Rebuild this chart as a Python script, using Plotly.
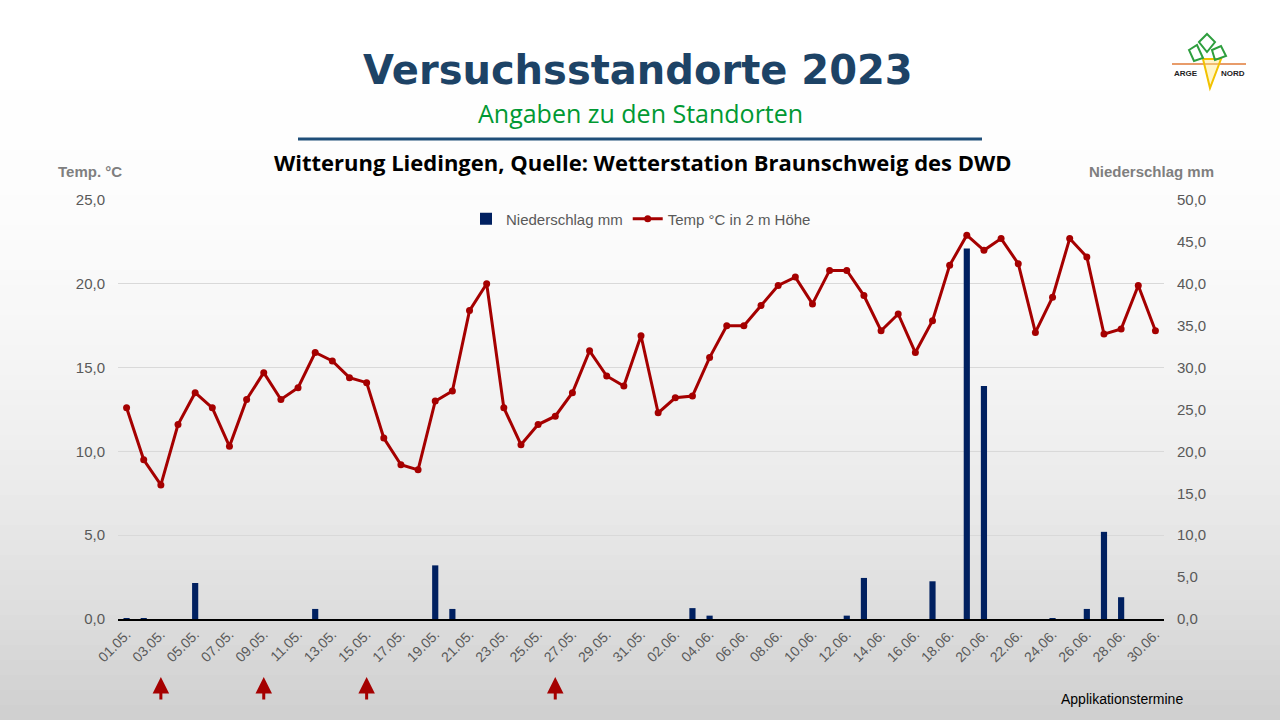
import pandas as pd
import plotly.graph_objects as go

# Tage 01.05. - 30.06.2023
days = list(pd.date_range("2023-05-01", "2023-06-30").strftime("%d.%m."))

temp_may = [12.6, 9.5, 8.0, 11.6, 13.5, 12.6, 10.3, 13.1, 14.7, 13.1, 13.8, 15.9, 15.4, 14.4, 14.1, 10.8,
            9.2, 8.9, 13.0, 13.6, 18.4, 20.0, 12.6, 10.4, 11.6, 12.1, 13.5, 16.0, 14.5, 13.9, 16.9]
temp_jun = [12.3, 13.2, 13.3, 15.6, 17.5, 17.5, 18.7, 19.9, 20.4, 18.8, 20.8, 20.8, 19.3, 17.2, 18.2,
            15.9, 17.8, 21.1, 22.9, 22.0, 22.7, 21.2, 17.1, 19.2, 22.7, 21.6, 17.0, 17.3, 19.9, 17.2]
rain_may = [0.1, 0.1, 0, 0, 4.3, 0, 0, 0, 0, 0, 0, 1.2, 0, 0, 0, 0, 0, 0, 6.4, 1.2, 0, 0, 0, 0, 0, 0,
            0, 0, 0, 0, 0]
rain_jun = [0, 0, 1.3, 0.4, 0, 0, 0, 0, 0, 0, 0, 0.4, 4.9, 0, 0, 0, 4.5, 0, 44.2, 27.8, 0, 0, 0, 0.1,
            0, 1.2, 10.4, 2.6, 0, 0]
temp = temp_may + temp_jun
rain = rain_may + rain_jun

app_dates = ["03.05.", "09.05.", "15.05.", "26.05."]
tick_days = days[::2]

# plot area in pixels
L, R, T, B = 118, 1164, 200, 619


def px(x):
    return (x - L) / (R - L)


def py(y):
    return (B - y) / (B - T)


grey = "#595959"
fig = go.Figure()

fig.add_trace(go.Bar(x=days, y=rain, name="Niederschlag mm", yaxis="y2",
                     marker=dict(color="#002060", line=dict(width=0)), width=0.36))
fig.add_trace(go.Scatter(x=days, y=temp, name="Temp °C in 2 m Höhe", mode="lines+markers",
                         line=dict(color="#A50000", width=3), marker=dict(color="#A50000", size=7)))

shapes = []
# background gradient
n = 48
for i in range(n):
    y0 = 720 * i / n
    y1 = 720 * (i + 1) / n
    t = (y0 + y1) / 2 / 720
    v = int(round(255 - 48 * t ** 2.2))
    shapes.append(dict(type="rect", xref="paper", yref="paper", x0=px(0), x1=px(1280),
                       y0=py(y1 + 0.5), y1=py(y0), fillcolor=f"rgb({v},{v},{v})",
                       line=dict(width=0), layer="below"))
# line under subtitle
shapes.append(dict(type="line", xref="paper", yref="paper", x0=px(298), x1=px(982),
                   y0=py(139), y1=py(139), line=dict(color="#1F4E79", width=3)))


# logo (rough)
def path(pts):
    return "M " + " L ".join(f"{px(a)},{py(b)}" for a, b in pts) + " Z"


shapes.append(dict(type="line", xref="paper", yref="paper", x0=px(1172), x1=px(1246),
                   y0=py(64), y1=py(64), line=dict(color="#E07B39", width=1.5)))
shapes.append(dict(type="path", xref="paper", yref="paper",
                   path=path([(1203, 59), (1221, 59), (1210, 88)]),
                   line=dict(color="#F2C200", width=2), fillcolor="rgba(255,230,120,0.4)"))
for leaf in ([(1189, 50), (1197, 45), (1203, 58), (1194, 61)],
             [(1199, 42), (1207, 34), (1215, 42), (1207, 52)],
             [(1212, 50), (1221, 46), (1226, 56), (1215, 60)]):
    shapes.append(dict(type="path", xref="paper", yref="paper", path=path(leaf),
                       line=dict(color="#2E9E3E", width=2), fillcolor="rgba(0,0,0,0)"))

annotations = [
    dict(text="<b>Versuchsstandorte 2023</b>", x=px(638), y=py(70)),
    dict(text="Angaben zu den Standorten", x=px(640), y=py(113)),
    dict(text="<b>Witterung Liedingen, Quelle: Wetterstation Braunschweig des DWD</b>",
         x=px(643), y=py(162)),
    dict(text="<b>Temp. °C</b>", x=px(90), y=py(172)),
    dict(text="<b>Niederschlag mm</b>", x=px(1151), y=py(172)),
    dict(text="Applikationstermine", x=px(1122), y=py(699)),
    dict(text="<b>ARGE</b>", x=px(1186), y=py(73)),
    dict(text="<b>NORD</b>", x=px(1233), y=py(73)),
]
fonts = [
    dict(family="DejaVu Sans", size=40, color="#1D4366"),
    dict(family="Open Sans", size=25, color="#009933"),
    dict(family="Open Sans", size=22, color="black"),
    dict(family="Liberation Sans", size=15, color="#7F7F7F"),
    dict(family="Liberation Sans", size=15, color="#7F7F7F"),
    dict(family="Liberation Sans Narrow, Liberation Sans", size=14, color="black"),
    dict(family="Liberation Sans", size=8, color="#222222"),
    dict(family="Liberation Sans", size=8, color="#222222"),
]
for a, f in zip(annotations, fonts):
    a.update(xref="paper", yref="paper", showarrow=False, xanchor="center", yanchor="middle", font=f)

for d in app_dates:
    annotations.append(dict(x=d, xref="x", y=py(677), yref="paper", text="", showarrow=True,
                            ax=0, ay=24, arrowhead=2, arrowsize=1.1, arrowwidth=3,
                            arrowcolor="#A50000"))

fig.update_layout(
    width=1280, height=720,
    margin=dict(l=L, r=1280 - R, t=T, b=720 - B),
    paper_bgcolor="white", plot_bgcolor="rgba(0,0,0,0)",
    separators=",.",
    font=dict(family="Liberation Sans", color=grey),
    showlegend=True,
    legend=dict(orientation="h", x=0.5, xanchor="center", y=py(219), yanchor="middle",
                font=dict(size=15, color=grey), bgcolor="rgba(0,0,0,0)", traceorder="normal"),
    xaxis=dict(type="category", tickvals=tick_days, ticktext=tick_days, tickangle=-45,
               tickfont=dict(size=14, color=grey), showgrid=False, showline=True,
               linecolor="black", linewidth=1.5, ticks="", range=[-0.5, len(days) - 0.5]),
    yaxis=dict(range=[0, 25], dtick=5, tickformat=".1f", showgrid=True, gridcolor="#D9D9D9",
               gridwidth=1, zeroline=False, tickfont=dict(size=15, color=grey), ticks="",
               ticklabelstandoff=12),
    yaxis2=dict(range=[0, 50], dtick=5, tickformat=".1f", overlaying="y", side="right",
                showgrid=False, zeroline=False, tickfont=dict(size=15, color=grey), ticks="",
                ticklabelstandoff=12),
    shapes=shapes,
    annotations=annotations,
)

fig.write_html("out.html", config={"displayModeBar": False},
               post_script="document.body.style.margin='0';")
